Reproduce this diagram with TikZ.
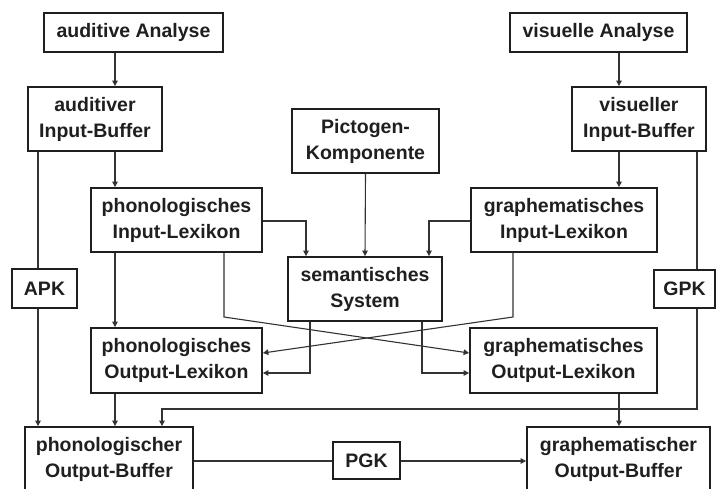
\documentclass[tikz,border=0pt]{standalone}
\usepackage{fontspec}
\setmainfont{Liberation Sans}
\usetikzlibrary{arrows.meta}
\begin{document}
\begin{tikzpicture}[x=1pt,y=-1pt,
  box/.style={draw=black!88, line width=1.8pt, inner sep=0pt, align=center,
    font=\fontsize{19.5}{26}\selectfont\bfseries, text=black!88},
  conn/.style={draw=black!80, line width=1.1pt},
  arr/.style={conn, -{Triangle[length=5.5pt,width=5.5pt]}}]
\useasboundingbox (0,0) rectangle (717,488);
\clip (0,0) rectangle (717,488);
\fill[white] (0,0) rectangle (717,488);
% nodes
\node[box, minimum width=179pt, minimum height=39pt] (aa) at (133.5,32.5) {auditive Analyse};
\node[box, minimum width=134pt, minimum height=64pt] (aib) at (95,119) {auditiver\\Input-Buffer};
\node[box, minimum width=171pt, minimum height=64pt] (pil) at (176.5,220) {phonologisches\\Input-Lexikon};
\node[box, minimum width=147pt, minimum height=64pt] (pk) at (365.5,141) {Pictogen-\\Komponente};
\node[box, minimum width=177pt, minimum height=39pt] (va) at (598.5,32.5) {visuelle Analyse};
\node[box, minimum width=134pt, minimum height=64pt] (vib) at (639,119) {visueller\\Input-Buffer};
\node[box, minimum width=186pt, minimum height=64pt] (gil) at (564,220) {graphematisches\\Input-Lexikon};
\node[box, minimum width=154pt, minimum height=64pt] (sem) at (365,289) {semantisches\\System};
\node[box, minimum width=65pt, minimum height=39pt] (apk) at (44.5,288.5) {APK};
\node[box, minimum width=61pt, minimum height=38pt] (gpk) at (684.5,289) {GPK};
\node[box, minimum width=171pt, minimum height=65pt] (pol) at (176.5,360.5) {phonologisches\\Output-Lexikon};
\node[box, minimum width=187pt, minimum height=65pt] (gol) at (563.5,360.5) {graphematisches\\Output-Lexikon};
\node[box, minimum width=168pt, minimum height=64pt] (pob) at (109,459) {phonologischer\\Output-Buffer};
\node[box, minimum width=67pt, minimum height=37pt] (pgk) at (366.5,460.5) {PGK};
\node[box, minimum width=183pt, minimum height=64pt] (gob) at (618.5,459) {graphematischer\\Output-Buffer};
% helper coordinates
\coordinate (xA) at (115,0);
\coordinate (xB) at (38,0);
\coordinate (xC) at (306,0);
\coordinate (xD) at (429,0);
\coordinate (xE) at (619,0);
\coordinate (xF) at (697,0);
\coordinate (xG) at (162,0);
\coordinate (xI) at (224,0);
\coordinate (xJ) at (513,0);
\coordinate (xK) at (310,0);
\coordinate (xM) at (422,0);
\coordinate (yH) at (0,409);
\coordinate (yX) at (0,317);
\coordinate (yD) at (0,353);
\coordinate (yL) at (0,373);
\coordinate (yP) at (0,461);
% connectors
\draw[arr] (aa.south -| xA) -- (aib.north -| xA);
\draw[arr] (aib.south -| xA) -- (pil.north -| xA);
\draw[conn] (aib.south -| xB) -- (apk.north -| xB);
\draw[arr] (apk.south -| xB) -- (pob.north -| xB);
\draw[arr] (pil.east |- 0,221) -| (sem.north -| xC);
\draw[arr] (pk.south) -- (sem.north);
\draw[arr] (gil.west |- 0,221) -| (sem.north -| xD);
\draw[arr] (va.south -| xE) -- (vib.north -| xE);
\draw[arr] (vib.south -| xE) -- (gil.north -| xE);
\draw[conn] (vib.south -| xF) -- (gpk.north -| xF);
\draw[arr] (gpk.south -| xF) -- (xF |- yH) -| (pob.north -| xG);
\draw[arr] (pil.south -| xA) -- (pol.north -| xA);
\draw[arr] (pil.south -| xI) -- (xI |- yX) -- (gol.west |- yD);
\draw[arr] (gil.south -| xJ) -- (xJ |- yX) -- (pol.east |- yD);
\draw[arr] (sem.south -| xK) |- (pol.east |- yL);
\draw[arr] (sem.south -| xM) |- (gol.west |- yL);
\draw[arr] (pol.south -| xA) -- (pob.north -| xA);
\draw[arr] (gol.south -| xE) -- (gob.north -| xE);
\draw[conn] (pob.east |- yP) -- (pgk.west |- yP);
\draw[arr] (pgk.east |- yP) -- (gob.west |- yP);
\end{tikzpicture}
\end{document}
